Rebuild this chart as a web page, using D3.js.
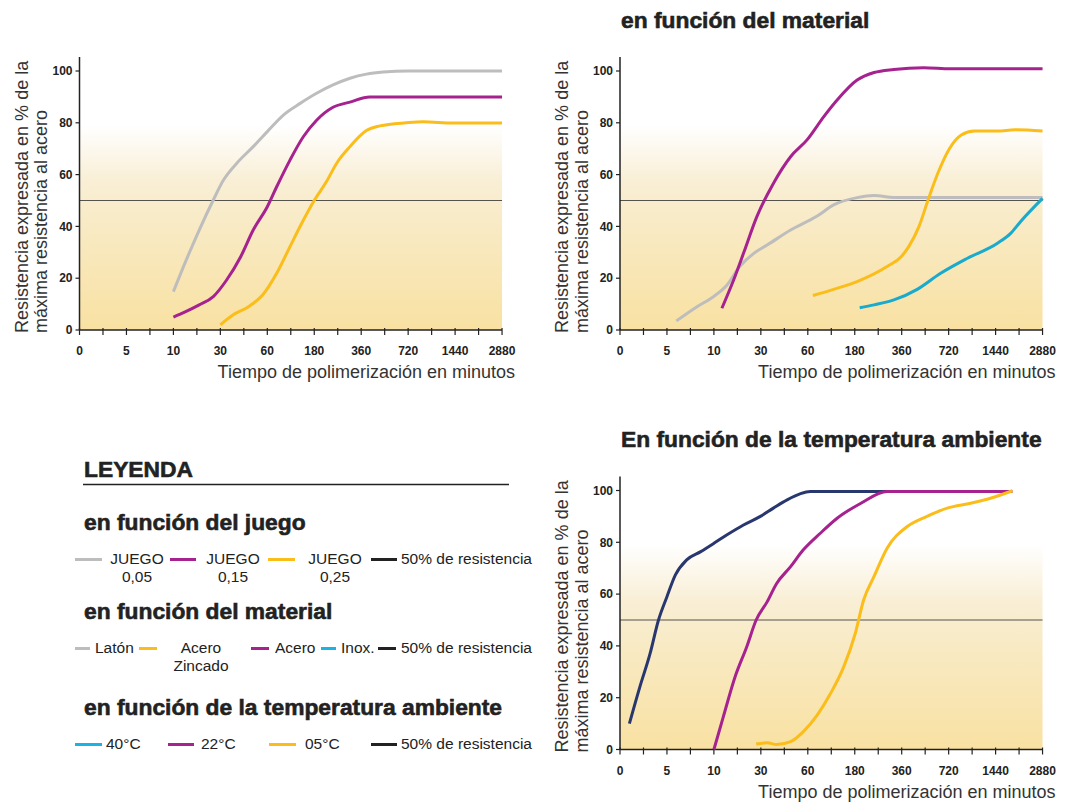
<!DOCTYPE html>
<html>
<head>
<meta charset="utf-8">
<script src="https://cdn.jsdelivr.net/npm/d3@7"></script>
<style>
  body { margin: 0; background: #fff; }
  svg { display: block; font-family: "Liberation Sans", Arial, sans-serif; }
</style>
</head>
<body>
<div id="chart"></div>
<script>
// x categories (minutes) are evenly spaced on the axis
const X_TICKS = [0, 5, 10, 30, 60, 180, 360, 720, 1440, 2880]
const Y_TICKS = [0, 20, 40, 60, 80, 100]
const THRESHOLD = 50

// en función del juego  [minutes, %]
const juego005 = [[10, 14.8], [15, 26], [21, 38.6], [27, 50.2], [32, 57.9], [40.5, 64.4], [51, 70.8], [60, 76.6], [101, 83], [144, 87.5], [189, 91.4], [252, 94.6], [317, 97.2], [400, 98.8], [529, 99.6], [720, 100], [2880, 100]]
const juego015 = [[10, 5], [15, 7], [21, 9.7], [27, 12.9], [34, 19.3], [43, 28.3], [51, 38.6], [60, 47.6], [84, 55.3], [118, 65.6], [152, 74.6], [189, 81], [252, 86], [317, 88], [425, 90], [2880, 90]]
const juego025 = [[30, 2], [38, 5.8], [48, 9], [57, 13.5], [84, 21.9], [118, 32.2], [148, 41.2], [178, 49.5], [227, 57.3], [266, 64.4], [317, 70.8], [400, 77], [504, 78.8], [706, 80], [950, 80.4], [1411, 79.9], [2880, 79.9]]

// en función del material
const laton = [[6, 3.5], [8.2, 9], [10, 13], [15.6, 17.4], [21, 24.5], [27, 29.6], [34, 32.8], [49, 38.6], [84, 44], [126, 48.3], [189, 51.1], [254, 51.9], [330, 51.2], [2880, 51.2]]
const acero = [[13.4, 8.4], [18.4, 19.3], [22.6, 29.6], [28.3, 43.8], [38, 56.6], [49, 66.9], [59.5, 73.4], [101, 82.4], [135, 88.8], [189, 96.5], [254, 99.4], [330, 100.6], [529, 101.3], [749, 100.9], [2880, 100.9]]
const zincado = [[73, 13.3], [126, 15.7], [189, 18.7], [304, 24.5], [358, 28.3], [414, 32.2], [493, 40], [562, 50.2], [637, 60.5], [734, 70.1], [914, 75.3], [1116, 76.8], [1500, 76.8], [2030, 77.3], [2880, 76.8]]
const inox = [[199, 8.6], [254, 9.7], [330, 11.6], [479, 15.7], [659, 21.9], [1008, 27.7], [1498, 33.5], [1901, 37.3], [2203, 41.8], [2880, 50.8]]

// en función de la temperatura ambiente
const t40 = [[1, 10], [2.1, 24], [3.2, 37], [4.1, 50], [5, 59], [5.9, 67.4], [7.1, 73.2], [8.6, 76.4], [10, 79.6], [15.6, 82.9], [22.6, 86.7], [29.8, 90], [38, 93.2], [46.8, 96.4], [55, 98.7], [66, 99.6], [304, 99.6]]
const t22 = [[10, 0], [14, 12.6], [19, 28], [24, 39.7], [28, 50], [34, 57], [40, 64], [49, 70.6], [57, 77], [92, 83.5], [135, 89.3], [202, 95], [304, 99.6], [1958, 99.6]]
const t05 = [[28, 2.1], [34, 2.6], [40, 1.9], [49, 3], [57, 6.8], [84, 13.3], [118, 21.6], [152, 32], [182, 44.8], [214, 57.7], [254, 66.8], [304, 77.7], [403, 86.1], [554, 90], [709, 93.2], [1058, 95.1], [1361, 97], [1958, 99.9]]

const COLORS = {gray: "#bdbdbd", purple: "#a5228f", yellow: "#fbbd1a", cyan: "#1aaacd",
                cyanKey: "#19b3e6", navy: "#29376f", black: "#222"}

const STEP = 46.95
const PLOT_H = 259

/*********************************************
// Drawing
*********************************************/
function createSVG(elementId, width, height) {
  return d3.select(`#${elementId}`)
    .append("svg")
    .attr("width", width)
    .attr("height", height)
}

function addGradient(svg) {
  const grad = svg.append("defs").append("linearGradient")
    .attr("id", "bg-grad")
    .attr("x1", 0).attr("x2", 0).attr("y1", 0).attr("y2", 1)
  const stops = [[0, "#ffffff"], [0.21, "#ffffff"], [0.42, "#f9efd6"], [0.6, "#f8eac4"], [1, "#f8e1a2"]]
  grad.selectAll("stop").data(stops).enter()
    .append("stop")
    .attr("offset", (d) => d[0])
    .attr("stop-color", (d) => d[1])
}

function drawPanel(svg, left, bottom, series) {
  const x = d3.scaleLinear()
    .domain(X_TICKS)
    .range(X_TICKS.map((_, i) => left + i * STEP))
  const y = d3.scaleLinear().domain([0, 100]).range([bottom, bottom - PLOT_H])
  const right = x(X_TICKS[X_TICKS.length - 1])

  const g = svg.append("g")

  g.append("rect")
    .attr("x", left)
    .attr("y", y(100))
    .attr("width", right - left)
    .attr("height", y(0) - y(100))
    .attr("fill", "url(#bg-grad)")

  g.append("line")
    .attr("x1", left).attr("x2", right)
    .attr("y1", y(THRESHOLD)).attr("y2", y(THRESHOLD))
    .attr("stroke", "#55534b")
    .attr("stroke-width", 1.2)

  // y axis
  g.append("line")
    .attr("x1", left).attr("x2", left)
    .attr("y1", y(100) - 14).attr("y2", bottom)
    .attr("stroke", "#222").attr("stroke-width", 1.5)
  g.selectAll("line.ytick")
    .data(Y_TICKS).enter()
    .append("line")
    .attr("x1", left - 4).attr("x2", left)
    .attr("y1", y).attr("y2", y)
    .attr("stroke", "#222").attr("stroke-width", 1.2)
  g.selectAll("text.ylab")
    .data(Y_TICKS).enter()
    .append("text")
    .text((d) => d)
    .attr("x", left - 7)
    .attr("y", y)
    .attr("dy", "0.35em")
    .attr("text-anchor", "end")
    .attr("font-weight", "bold")
    .attr("font-size", "12px")
    .attr("fill", "#222")

  // x axis
  g.append("line")
    .attr("x1", left).attr("x2", right)
    .attr("y1", bottom).attr("y2", bottom)
    .attr("stroke", "#222").attr("stroke-width", 1.5)
  const minor = d3.pairs(X_TICKS).map(([a, b]) => (x(a) + x(b)) / 2)
  g.selectAll("line.xtick")
    .data(X_TICKS.map(x).concat(minor)).enter()
    .append("line")
    .attr("x1", (d) => d).attr("x2", (d) => d)
    .attr("y1", bottom - 2).attr("y2", bottom + 5)
    .attr("stroke", "#222").attr("stroke-width", 1.2)
  g.selectAll("text.xlab")
    .data(X_TICKS).enter()
    .append("text")
    .text((d) => d)
    .attr("x", x)
    .attr("y", bottom + 25)
    .attr("text-anchor", "middle")
    .attr("font-weight", "bold")
    .attr("font-size", "12px")
    .attr("fill", "#222")

  g.append("text")
    .text("Tiempo de polimerización en minutos")
    .attr("x", right + 13)
    .attr("y", bottom + 48)
    .attr("text-anchor", "end")
    .attr("font-size", "18px")
    .attr("fill", "#333")

  const yTitle = ["Resistencia expresada en % de la", "máxima resistencia al acero"]
  g.selectAll("text.ytitle")
    .data(yTitle).enter()
    .append("text")
    .text((d) => d)
    .attr("transform", (_, i) => `translate(${left - 52 + i * 19.5},${bottom + 3}) rotate(-90)`)
    .attr("font-size", "18px")
    .attr("fill", "#333")

  // curves
  const line = d3.line()
    .x((d) => x(d[0]))
    .y((d) => y(d[1]))
    .curve(d3.curveMonotoneX)
  g.selectAll("path.curve")
    .data(series).enter()
    .append("path")
    .attr("d", (s) => line(s.values))
    .attr("fill", "none")
    .attr("stroke", (s) => s.color)
    .attr("stroke-width", 3)
}

function drawTitle(svg, text, px, py) {
  svg.append("text")
    .text(text)
    .attr("x", px).attr("y", py)
    .attr("font-weight", "bold")
    .attr("font-size", "22.8px")
    .attr("fill", "#222")
    .attr("stroke", "#222")
    .attr("stroke-width", 0.6)
}

function drawKey(svg, x1, x2, yy, color) {
  svg.append("line")
    .attr("x1", x1).attr("x2", x2)
    .attr("y1", yy).attr("y2", yy)
    .attr("stroke", color)
    .attr("stroke-width", 3)
}

function drawLabel(svg, lines, px, py, anchor) {
  lines.forEach((t, i) => {
    svg.append("text")
      .text(t)
      .attr("x", px).attr("y", py + i * 17.5)
      .attr("text-anchor", anchor || "start")
      .attr("font-size", "15.5px")
      .attr("fill", "#222")
  })
}

function drawLegend(svg) {
  drawTitle(svg, "LEYENDA", 84, 477)
  svg.append("line")
    .attr("x1", 83).attr("x2", 509)
    .attr("y1", 484.5).attr("y2", 484.5)
    .attr("stroke", "#222").attr("stroke-width", 1.6)

  drawTitle(svg, "en función del juego", 84, 530)
  drawKey(svg, 75, 102, 559.5, COLORS.gray)
  drawLabel(svg, ["JUEGO", "0,05"], 137, 564, "middle")
  drawKey(svg, 170, 196, 559.5, COLORS.purple)
  drawLabel(svg, ["JUEGO", "0,15"], 233, 564, "middle")
  drawKey(svg, 268, 295, 559.5, COLORS.yellow)
  drawLabel(svg, ["JUEGO", "0,25"], 335, 564, "middle")
  drawKey(svg, 371, 397, 559.5, COLORS.black)
  drawLabel(svg, ["50% de resistencia"], 401, 564)

  drawTitle(svg, "en función del material", 84, 619)
  drawKey(svg, 75, 90, 648.5, COLORS.gray)
  drawLabel(svg, ["Latón"], 95, 653)
  drawKey(svg, 139, 157, 648.5, COLORS.yellow)
  drawLabel(svg, ["Acero", "Zincado"], 201, 653, "middle")
  drawKey(svg, 251, 269, 648.5, COLORS.purple)
  drawLabel(svg, ["Acero"], 275, 653)
  drawKey(svg, 321, 336, 648.5, COLORS.cyanKey)
  drawLabel(svg, ["Inox."], 341, 653)
  drawKey(svg, 378, 396, 648.5, COLORS.black)
  drawLabel(svg, ["50% de resistencia"], 401, 653)

  drawTitle(svg, "en función de la temperatura ambiente", 84, 715)
  drawKey(svg, 75, 102, 744.5, COLORS.cyanKey)
  drawLabel(svg, ["40°C"], 106, 749)
  drawKey(svg, 168, 194, 744.5, COLORS.purple)
  drawLabel(svg, ["22°C"], 201, 749)
  drawKey(svg, 269, 296, 744.5, COLORS.yellow)
  drawLabel(svg, ["05°C"], 305, 749)
  drawKey(svg, 371, 397, 744.5, COLORS.black)
  drawLabel(svg, ["50% de resistencia"], 401, 749)
}

const svg = createSVG("chart", 1072, 810)
addGradient(svg)

drawPanel(svg, 79.5, 330, [
  {values: juego005, color: COLORS.gray},
  {values: juego025, color: COLORS.yellow},
  {values: juego015, color: COLORS.purple}
])

drawTitle(svg, "en función del material", 621, 27.5)
drawPanel(svg, 620, 330, [
  {values: laton, color: COLORS.gray},
  {values: inox, color: COLORS.cyan},
  {values: zincado, color: COLORS.yellow},
  {values: acero, color: COLORS.purple}
])

drawTitle(svg, "En función de la temperatura ambiente", 621, 446.5)
drawPanel(svg, 620, 749.5, [
  {values: t40, color: COLORS.navy},
  {values: t22, color: COLORS.purple},
  {values: t05, color: COLORS.yellow}
])

drawLegend(svg)
</script>
</body>
</html>
